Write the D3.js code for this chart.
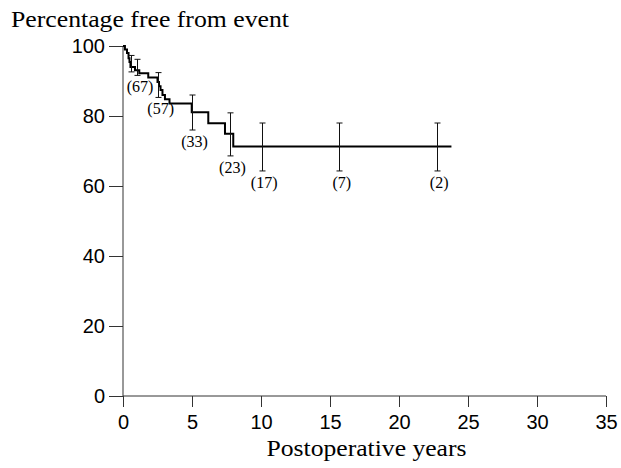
<!DOCTYPE html>
<html>
<head>
<meta charset="utf-8">
<script src="https://d3js.org/d3.v7.min.js"></script>
<style>
  body { margin: 0; background: #fff; }
  svg { display: block; }
  .axis path, .axis line { stroke: #333; stroke-width: 1; }
  .axis text { font-family: "Liberation Sans", Arial, sans-serif; font-size: 20px; fill: #000; }
  .label { font-family: "Liberation Serif", "Times New Roman", serif; fill: #000; }
</style>
</head>
<body>
<div id="chart"></div>
<script>
// Kaplan-Meier steps: time (years) where the level starts, and the level (%)
var stepTimes  = [0, 0.14, 0.29, 0.40, 0.47, 0.54, 0.87, 1.18, 1.83, 2.50, 2.61, 2.72, 2.86, 3.04, 3.37, 4.98, 6.18, 7.39, 7.99];
var stepValues = [100, 99, 98, 96.5, 95.4, 94, 93.1, 92.2, 91, 89.7, 88.5, 87.4, 86, 84.8, 83.6, 81.1, 77.9, 74.9, 71.3];
var lastTime = 23.8;

// error bars with patients at risk
var barTimes = [0.6, 1.05, 2.55, 5.0, 7.75, 10.05, 15.67, 22.73];
var barLower = [92.6, 91.6, 85.3, 76, 68.6, 64.3, 64.3, 64.3];
var barUpper = [97.3, 96.2, 92.4, 86, 80.9, 78, 78, 78];
var atRisk   = ["", "(67)", "(57)", "(33)", "(23)", "(17)", "(7)", "(2)"];

var xTicks = [0, 5, 10, 15, 20, 25, 30, 35];
var yTicks = [0, 20, 40, 60, 80, 100];

var width = 621, height = 468;
var svg = d3.select("#chart").append("svg")
  .attr("width", width)
  .attr("height", height);

var x = d3.scaleLinear().domain([0, 35]).range([123, 606]);
var y = d3.scaleLinear().domain([0, 100]).range([396, 46]);

// axes
svg.append("g")
  .attr("class", "axis")
  .attr("transform", "translate(0," + y(0) + ")")
  .call(d3.axisBottom(x).tickValues(xTicks).tickSize(11).tickPadding(8).tickSizeOuter(0))
  .call(function (g) { g.select(".domain").attr("d", "M" + x(0) + ",0H" + x(35)); });

svg.append("g")
  .attr("class", "axis")
  .attr("transform", "translate(" + x(0) + ",0)")
  .call(d3.axisLeft(y).tickValues(yTicks).tickSize(14).tickPadding(4).tickSizeOuter(0))
  .call(function (g) { g.select(".domain").attr("d", "M0," + y(0) + "V" + y(100)); });

d3.selectAll(".axis text").attr("font-family", null).attr("font-size", null);

// survival curve as a step line
var curve = stepTimes.map(function (t, i) { return [t, stepValues[i]]; });
curve.push([lastTime, stepValues[stepValues.length - 1]]);

var line = d3.line()
  .x(function (d) { return x(d[0]); })
  .y(function (d) { return y(d[1]); })
  .curve(d3.curveStepAfter);

svg.append("path")
  .datum(curve)
  .attr("fill", "none")
  .attr("stroke", "#000")
  .attr("stroke-width", 2)
  .attr("d", line);

// error bars
var capHalf = 3;
var bars = svg.append("g").attr("stroke", "#111").attr("stroke-width", 1);
barTimes.forEach(function (t, i) {
  var bx = Math.round(x(t)) + 0.5;
  bars.append("line").attr("x1", bx).attr("x2", bx).attr("y1", y(barUpper[i])).attr("y2", y(barLower[i]));
  bars.append("line").attr("x1", bx - capHalf).attr("x2", bx + capHalf).attr("y1", y(barUpper[i])).attr("y2", y(barUpper[i]));
  bars.append("line").attr("x1", bx - capHalf).attr("x2", bx + capHalf).attr("y1", y(barLower[i])).attr("y2", y(barLower[i]));
});

// numbers at risk under the bars
svg.append("g").selectAll("text")
  .data(barTimes)
  .enter()
  .append("text")
  .attr("class", "label")
  .attr("font-size", 16)
  .attr("text-anchor", "middle")
  .attr("x", function (d) { return x(d) + 2.5; })
  .attr("y", function (d, i) { return y(barLower[i]) + 17; })
  .text(function (d, i) { return atRisk[i]; });

// titles
svg.append("text")
  .attr("class", "label")
  .attr("font-size", 24)
  .attr("x", 11)
  .attr("y", 27)
  .attr("textLength", 278)
  .attr("lengthAdjust", "spacingAndGlyphs")
  .text("Percentage free from event");

svg.append("text")
  .attr("class", "label")
  .attr("font-size", 24)
  .attr("text-anchor", "middle")
  .attr("x", x(17.5) + 2)
  .attr("y", 456)
  .attr("textLength", 200)
  .attr("lengthAdjust", "spacingAndGlyphs")
  .text("Postoperative years");
</script>
</body>
</html>
